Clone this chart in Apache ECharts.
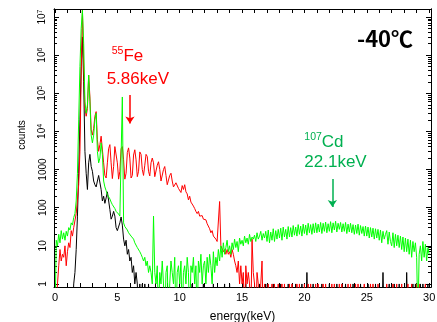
<!DOCTYPE html>
<html>
<head>
<meta charset="utf-8">
<script src="https://cdn.jsdelivr.net/npm/echarts@6/dist/echarts.min.js"></script>
<style>
html, body { margin: 0; padding: 0; background: #fff; }
#chart { width: 437px; height: 322px; }
</style>
</head>
<body>
<div id="chart"></div>
<script>
// channels every 0.1 keV, 0 .. 30 keV
const energy = [];
for (let i = 0; i <= 300; i++) energy.push(+(i * 0.1).toFixed(1));

const blackCounts = [
  0,0,0,0,0,0,0,0,0,0,
  0,0,0,0,0,1,2,8,60,800,
  2e4,5e5,3e6,2e5,3000,800,300,1500,2500,1200,
  900,500,400,350,500,700,650,300,150,200,
  130,180,260,240,90,50,60,80,60,30,
  25,28,40,57,35,15,10,14,6,8,
  4,5,2,3,1,2,1,0,1,0,
  1,0,1,1,0,1,0,0,0,0,
  0,0,0,0,0,0,0,0,0,0,
  0,0,0,0,0,0,0,0,0,0,
  0,0,0,0,0,0,0,0,0,0,
  1,0,0,0,0,0,0,0,0,1,
  0,0,0,0,0,0,0,1,0,0,
  0,0,0,0,0,0,1,0,0,0,
  1,0,0,0,0,0,0,0,0,0,
  0,0,0,1,0,0,0,0,0,0,
  0,0,0,0,1,0,0,0,0,1,
  0,0,0,0,0,1,0,0,0,0,
  0,1,0,0,0,0,0,1,0,0,
  0,0,0,1,0,0,0,0,1,0,
  0,0,2,0,0,0,0,1,0,0,
  0,0,0,0,1,0,0,0,0,0,
  1,0,0,0,0,0,1,0,0,0,
  0,0,0,1,0,0,0,0,0,1,
  0,0,0,0,0,1,0,0,0,0,
  0,1,0,0,0,0,0,1,0,0,
  0,0,0,2,0,0,0,0,1,0,
  0,0,1,0,0,0,1,0,0,0,
  0,0,2,0,0,0,0,1,0,1,
  0,0,0,1,0,1,0,0,0,1,
  0
];

const redCounts = [
  0,0,1,3,8,4,6,5,10,3,
  7,12,9,25,18,30,32,70,160,400,
  3000,3e5,1.5e7,5e5,4e4,2.5e4,4e4,3e5,8e4,1.1e4,
  8000,1.2e4,2.5e4,3.3e4,6000,3000,4500,7500,7000,1500,
  700,600,1500,3500,4500,1500,580,1200,4000,4200,
  1500,560,900,3500,4000,1800,560,800,2800,3700,
  2000,600,700,2400,3300,1800,650,900,2900,2500,
  1000,700,1300,2500,2200,900,680,1500,2000,1500,
  650,650,1300,1600,1000,500,560,1000,1200,700,
  400,420,700,800,500,350,380,450,420,320,
  320,250,380,300,400,260,230,160,200,140,
  130,110,95,80,70,80,60,55,62,50,
  45,48,38,35,28,22,25,18,17,15,
  13,14,145,10,9,7,8,6,8,6,
  7,5,8,6,4,3,2,4,1,3,
  1,2,0,3,1,2,1,0,15,2,
  1,0,2,1,0,1,4,0,1,0,
  0,1,0,0,1,0,1,0,0,1,
  0,0,1,0,1,0,0,0,1,0,
  1,0,0,0,1,0,1,0,0,0,
  1,0,0,1,0,1,0,0,0,1,
  0,1,0,0,0,1,0,1,0,0,
  0,0,1,0,1,0,0,0,1,0,
  1,0,0,0,0,1,0,1,0,0,
  0,1,0,1,0,0,0,0,1,0,
  0,0,0,1,0,1,0,0,0,1,
  1,0,0,0,0,0,1,0,0,0,
  0,1,0,0,1,0,0,0,1,0,
  0,0,0,1,0,0,1,0,0,0,
  1,0,1,0,0,0,0,1,0,0,
  0
];

const greenCounts = [
  0,14,10,20,12,25,15,22,14,24,
  18,30,26,40,35,55,70,150,800,2e4,
  5e5,5e6,1.5e7,2e6,6e4,3e4,5e4,3e5,6e4,8000,
  5000,8000,2e4,3e4,3000,1500,2000,5000,2500,500,
  350,280,220,200,170,140,120,110,95,80,
  75,68,60,55,8e4,40,32,30,26,22,
  20,18,17,15,12,11,9,8,7,6,
  5,4,5,3,4,2,3,2,1,60,
  2,1,3,0,2,1,4,1,0,2,
  3,0,1,4,2,1,5,0,2,3,
  1,4,0,2,3,1,5,2,0,3,
  2,5,1,3,0,4,2,6,1,3,
  4,1,5,2,6,3,1,7,2,5,
  3,8,4,10,5,12,6,9,14,7,
  10,6,12,8,15,9,13,7,16,11,
  14,10,18,12,16,11,20,13,17,15,
  19,13,22,15,18,24,14,21,16,24,
  13,26,12,23,14,28,13,25,15,27,
  16,29,14,31,17,27,15,32,17,30,
  17,34,19,31,18,36,20,33,18,37,
  21,35,19,39,22,36,20,38,22,40,
  22,37,23,41,21,39,24,42,22,38,
  24,43,22,40,26,44,23,39,27,41,
  23,38,24,41,21,37,23,39,22,36,
  20,35,21,37,19,34,21,32,18,33,
  18,31,16,30,17,29,15,28,16,27,
  14,26,12,24,15,20,25,11,23,13,
  10,22,9,20,10,19,9,18,8,17,
  7,16,7,15,6,14,5,13,7,12,
  5,0,6,10,4,13,5,11,4,9,
  6
];

// decade exponents shown on the count axis, and energy labels
const countExponents = [0, 1, 2, 3, 4, 5, 6, 7];
const energyLabels = [0, 5, 10, 15, 20, 25, 30];

const font = '"Liberation Sans", Arial, sans-serif';
const xMin = -0.08, xMax = 30.15;
const yMin = -0.08, yMax = 7.21;

// empty channels sit below the 1-count floor, like in the original plot
function toLog(c) {
  return Math.log10(c > 0 ? c : 0.1);
}
function seriesData(counts) {
  return energy.map((e, i) => [e, toLog(counts[i])]);
}

const energyTicks = [];
for (let i = 0; i <= 30; i++) energyTicks.push(i);
const minorCountTicks = [];
for (let k = 0; k < 7; k++) {
  for (let m = 2; m <= 9; m++) minorCountTicks.push(k + Math.log10(m));
}

function xAxis(pos, labels) {
  return {
    type: 'value', position: pos, min: xMin, max: xMax,
    name: labels ? 'energy(keV)' : '',
    nameLocation: 'middle', nameGap: 24,
    nameTextStyle: { fontFamily: font, fontSize: 12, color: '#000' },
    axisLine: { show: true, onZero: false, lineStyle: { color: '#000', width: 1 } },
    axisTick: { show: true, inside: true, length: 4, customValues: energyTicks, lineStyle: { color: '#000' } },
    axisLabel: labels ? {
      show: true, customValues: energyLabels, margin: 5,
      fontFamily: font, fontSize: 11, color: '#000'
    } : { show: false },
    splitLine: { show: false }
  };
}

function yAxis(pos, labels, ticks, len) {
  return {
    type: 'value', position: pos, min: yMin, max: yMax,
    name: labels ? 'counts' : '',
    nameLocation: 'middle', nameGap: 27,
    nameTextStyle: { fontFamily: font, fontSize: 10, color: '#000', padding: [0, 0, 0, 26] },
    axisLine: { show: true, onZero: false, lineStyle: { color: '#000', width: 1 } },
    axisTick: { show: true, inside: true, length: len, customValues: ticks, lineStyle: { color: '#000' } },
    axisLabel: labels ? {
      show: true, customValues: countExponents, rotate: 90, margin: 6,
      fontFamily: font, fontSize: 10, color: '#000',
      formatter: function (v) {
        const n = Math.round(v);
        return n <= 3 ? String(Math.pow(10, n)) : '{b|10}{s|' + n + '}';
      },
      rich: {
        b: { fontFamily: font, fontSize: 10, color: '#000' },
        s: { fontFamily: font, fontSize: 7, color: '#000', verticalAlign: 'top', padding: [0, 0, 4, 0] }
      }
    } : { show: false },
    splitLine: { show: false }
  };
}

const redText = '#ff0000';
const greenText = '#00b050';

function noteLabels(color) {
  return {
    show: true, position: 'right', distance: 0,
    color: color, fontFamily: font, fontSize: 17,
    rich: {
      s: { color: color, fontFamily: font, fontSize: 10.5, lineHeight: 12, verticalAlign: 'top' },
      m: { color: color, fontFamily: font, fontSize: 17, lineHeight: 20 }
    }
  };
}

const chart = echarts.init(document.getElementById('chart'));
chart.setOption({
  animation: false,
  backgroundColor: '#fff',
  grid: { left: 54, right: 6, top: 9, bottom: 35, containLabel: false, outerBoundsMode: 'none' },
  xAxis: [xAxis('bottom', true), xAxis('top', false)],
  yAxis: [
    yAxis('left', true, countExponents, 5),
    yAxis('left', false, minorCountTicks, 3),
    yAxis('right', false, countExponents, 5),
    yAxis('right', false, minorCountTicks, 3)
  ],
  graphic: [{
    type: 'text', left: 357, top: 28,
    style: { text: '-40℃', font: 'bold 22px "Noto Sans CJK JP", sans-serif', fill: '#000' }
  }],
  series: [
    {
      name: 'black', type: 'line', data: seriesData(blackCounts),
      showSymbol: false, symbol: 'none', lineStyle: { color: '#000', width: 1 }
    },
    {
      name: 'red', type: 'line', data: seriesData(redCounts),
      showSymbol: false, symbol: 'none', lineStyle: { color: '#ff0000', width: 1 },
      markPoint: {
        symbol: 'circle', symbolSize: 0, silent: true,
        label: noteLabels(redText),
        data: [
          { coord: [4.55, 5.98], value: 0, label: { formatter: '{s|55}{m|Fe}' } },
          { coord: [4.14, 5.375], value: 0, label: { formatter: '5.86keV' } }
        ]
      },
      markLine: {
        silent: true, symbol: ['none', 'arrow'], symbolSize: 7,
        label: { show: false },
        lineStyle: { color: redText, width: 1.5, type: 'solid' },
        data: [[{ coord: [6.01, 4.955] }, { coord: [6.01, 4.21] }]]
      }
    },
    {
      name: 'green', type: 'line', data: seriesData(greenCounts),
      showSymbol: false, symbol: 'none', lineStyle: { color: '#00ff00', width: 1 },
      markPoint: {
        symbol: 'circle', symbolSize: 0, silent: true,
        label: noteLabels(greenText),
        data: [
          { coord: [19.99, 3.72], value: 0, label: { formatter: '{s|107}{m|Cd}' } },
          { coord: [19.99, 3.19], value: 0, label: { formatter: '22.1keV' } }
        ]
      },
      markLine: {
        silent: true, symbol: ['none', 'arrow'], symbolSize: 7,
        label: { show: false },
        lineStyle: { color: greenText, width: 1.5, type: 'solid' },
        data: [[{ coord: [22.24, 2.753] }, { coord: [22.24, 2.02] }]]
      }
    }
  ]
});
</script>
</body>
</html>
